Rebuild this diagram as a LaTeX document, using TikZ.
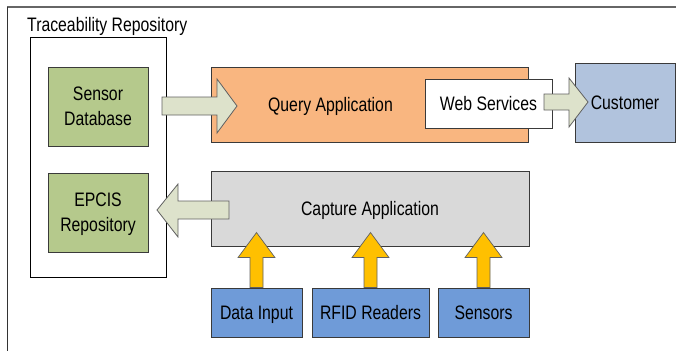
\documentclass[tikz,border=0pt]{standalone}
\usepackage{fontspec}
\setmainfont{Liberation Sans}[FakeStretch=0.81]
\usetikzlibrary{calc}
\definecolor{boxgreen}{HTML}{B5C98C}
\definecolor{boxorange}{HTML}{F9B680}
\definecolor{boxgray}{HTML}{D9D9D9}
\definecolor{boxblue}{HTML}{6F9BD8}
\definecolor{custblue}{HTML}{B1C3DD}
\definecolor{arrowfill}{HTML}{DDE2CB}
\definecolor{arrowyellow}{HTML}{FFC000}
\definecolor{edge}{HTML}{3A3A3A}
\begin{document}
\begin{tikzpicture}[x=1pt,y=-1pt,
  every node/.style={font=\fontsize{19.5}{25}\selectfont, inner sep=0pt},
  block/.style={draw=edge, line width=0.9pt, text height=14pt, text depth=0pt},
  twoline/.style={draw=edge, line width=0.9pt, align=center, text depth=0pt},
  bigarrow/.style={draw=edge!80, line width=0.8pt, fill=arrowfill, line join=miter},
  yarrow/.style={draw=edge!80, line width=0.7pt, fill=arrowyellow, line join=miter}]
\useasboundingbox (0,0) rectangle (676,351);
% outer frame
\coordinate (ftl) at (7,7);
\coordinate (ftr) at (676,7);
\coordinate (fbl) at (7,351);
\draw[draw=black!60, line width=1.3pt] (ftl) -- (ftr);
\draw[draw=black!80, line width=1pt] (ftl) -- (fbl);
\node[anchor=base west] (title) at (27,31) {Traceability Repository};
% inner repository box
\node[draw=black, line width=0.9pt, minimum width=136pt, minimum height=240pt] (repo) at (98,157) {};
% repository stores
\node[twoline, fill=boxgreen, minimum width=100pt, minimum height=79pt] (sd) at (98,106.5) {Sensor\\Database};
\node[twoline, fill=boxgreen, minimum width=100pt, minimum height=79pt] (ep) at (98,212.5) {EPCIS\\Repository};
% query application
\node[block, fill=boxorange, minimum width=317pt, minimum height=75pt] (qa) at (369.5,104.5) {};
\node[text height=14pt, text depth=0pt] (qatext) at (330.5,104.5) {Query Application};
\node[block, fill=white, minimum width=127pt, minimum height=49pt] (ws) at (488.5,103.5) {Web Services};
\node[block, fill=custblue, minimum width=100pt, minimum height=79pt] (cu) at (625,102.7) {Customer};
% capture application
\node[block, fill=boxgray, minimum width=318pt, minimum height=75pt] (ca) at (370,208.5) {Capture Application};
\node[block, fill=boxblue, minimum width=91pt, minimum height=49pt] (di) at (256.5,312.5) {Data Input};
\node[block, fill=boxblue, minimum width=117pt, minimum height=49pt] (rf) at (370.5,312.5) {RFID Readers};
\node[block, fill=boxblue, minimum width=91pt, minimum height=49pt] (se) at (483.5,312.5) {Sensors};
% block arrows
\draw[bigarrow] (162,97) -- (217,97) -- (217,79) -- (237,106) -- (217,133) -- (217,115) -- (162,115) -- cycle;
\draw[bigarrow] (544,94) -- (569,94) -- (569,78) -- (588,102) -- (569,127) -- (569,110) -- (544,110) -- cycle;
\draw[bigarrow] (229,201) -- (178,201) -- (178,184) -- (157,210) -- (178,237) -- (178,219) -- (229,219) -- cycle;
\foreach \n in {di,rf,se}{
  \draw[yarrow] ($(\n.north)+(-6.5,0)$) -- ++(0,-30) -- ++(-12,0) -- ++(18.5,-25) -- ++(18.5,25) -- ++(-12,0) -- ++(0,30) -- cycle;
}
\end{tikzpicture}
\end{document}
